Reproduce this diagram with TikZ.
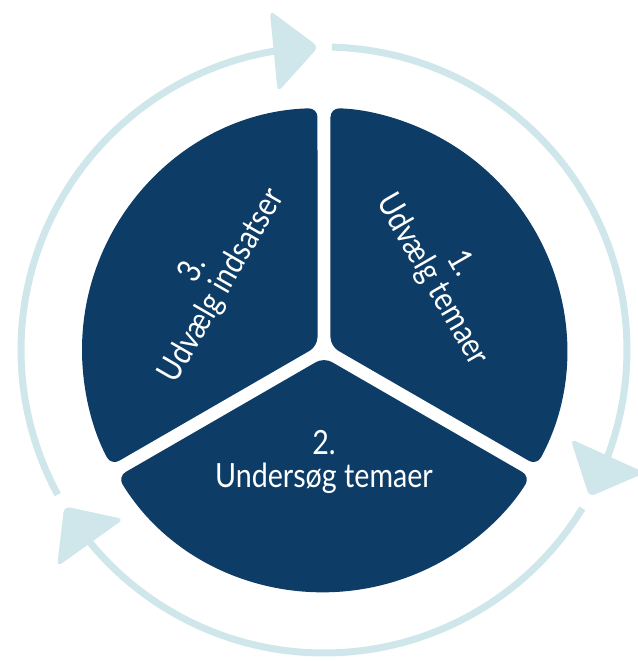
\documentclass[tikz,border=0pt]{standalone}
\usepackage{fontspec}
\usepackage{tikz}
\newfontfamily\stepfont[FakeStretch=0.86]{Lato}
\definecolor{navy}{RGB}{13,61,102}
\definecolor{ringblue}{RGB}{207,231,235}

\begin{document}
\begin{tikzpicture}[x=0.75pt,y=0.75pt,
        sector/.style={fill=navy, rounded corners=6.75pt},
        ringline/.style={draw=ringblue, line width=5.25pt},
        steplabel/.style={text=white, align=center, inner sep=0pt,
            font=\stepfont\fontsize{25}{24.75}\selectfont},
        ringarrow/.pic={\fill[ringblue, rounded corners=4.5pt] (3,0) -- (-42,41) -- (-42,-41) -- cycle;}]
        \useasboundingbox (-324,-311) rectangle (313,350);
        % --- Ring ---
        \begin{scope}
            \draw[ringline] (88.5:303) arc[start angle=88.5, end angle=-22.4, radius=303];
            \draw[ringline] (-31.5:303) arc[start angle=-31.5, end angle=-142.4, radius=303];
            \draw[ringline] (208.5:303) arc[start angle=208.5, end angle=97.6, radius=303];
            \pic[rotate=5.6] at (91.6:303) {ringarrow};
            \pic[rotate=-114.4] at (-28.4:303) {ringarrow};
            \pic[rotate=125.6] at (211.6:303) {ringarrow};
        \end{scope}
        % --- Step 1 ---
        \begin{scope}
            \fill[sector] (30:7.5) -- (-28.46:242) arc[start angle=-28.46, end angle=88.46, radius=242] -- cycle;
            \node[steplabel, rotate=-60] (temaer) at (122,78) {1.\\Udvælg temaer};
        \end{scope}
        % --- Step 2 ---
        \begin{scope}
            \fill[sector] (270:7.5) -- (211.54:242) arc[start angle=211.54, end angle=328.46, radius=242] -- cycle;
            \node[steplabel] (undersoeg) at (0,-112) {2.\\Undersøg temaer};
        \end{scope}
        % --- Step 3 ---
        \begin{scope}
            \fill[sector] (150:7.5) -- (91.54:242) arc[start angle=91.54, end angle=208.46, radius=242] -- cycle;
            \node[steplabel, rotate=60] (indsatser) at (-116,72) {3.\\Udvælg indsatser};
        \end{scope}
    \end{tikzpicture}
\end{document}
